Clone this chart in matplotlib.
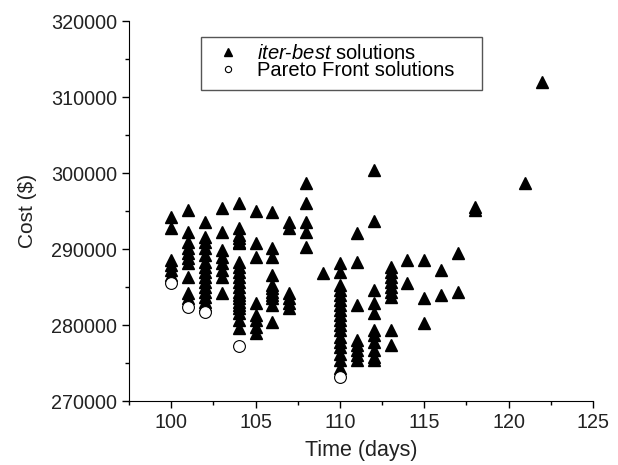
import matplotlib.pyplot as plt
from matplotlib.ticker import MultipleLocator
from matplotlib.patches import Rectangle

plt.rcParams['font.family'] = ['Liberation Sans', 'DejaVu Sans']
plt.rcParams['mathtext.fontset'] = 'custom'
plt.rcParams['mathtext.it'] = 'Liberation Sans:italic'
plt.rcParams['mathtext.rm'] = 'Liberation Sans'

# iter-best solutions, costs read per day
c100 = [294250, 292700, 288550, 287900, 287240, 286600]
c101 = [295130, 292280, 290960, 290090, 289430, 288780, 288120, 286360, 284170, 283510]
c102 = [293590, 291620, 290960, 290090, 289210, 288330, 287670, 287010, 286360,
        285700, 285040, 284380, 283720, 283070, 282630]
c103 = [295350, 292280, 289870, 288990, 288120, 287240, 286360, 284170]
c104 = [296010, 292720, 291840, 291410, 290960, 290750, 288330, 287670, 287010,
        286360, 285700, 285040, 284380, 283950, 283510, 283070, 282630, 282200,
        281540, 280660, 279570]
c105 = [295040, 290750, 288910, 282850, 281320, 280660, 279780, 278910]
c106 = [294910, 290090, 288910, 286580, 285260, 284830, 284380, 283950, 283510,
        282630, 280430]
c107 = [293590, 292720, 284170, 283510, 282850, 282200]
c108 = [298640, 296090, 293590, 292280, 290220]
c109 = [286800]
c110 = [288120, 287010, 285260, 284610, 283950, 283290, 282630, 281970, 281320,
        280660, 280000, 279340, 278460, 277800, 277140, 276200, 275390, 274300]
c111 = [292070, 288330, 282630, 278030, 277370, 276710, 276050, 275390]
c112 = [300390, 293680, 284610, 282850, 281540, 279340, 278680, 277800, 276710,
        275830, 275390]
c113 = [287670, 287010, 286360, 285700, 285040, 284380, 283720, 279340, 277370]
c114 = [288550, 285490]
c115 = [288550, 283510, 280220]
c116 = [287240, 283950]
c117 = [289430, 284380]
c118 = [295500, 295100]
c121 = [298720]
c122 = [311930]

groups = [(100, c100), (101, c101), (102, c102), (103, c103), (104, c104),
          (105, c105), (106, c106), (107, c107), (108, c108), (109, c109),
          (110, c110), (111, c111), (112, c112), (113, c113), (114, c114),
          (115, c115), (116, c116), (117, c117), (118, c118), (121, c121),
          (122, c122)]
iter_days = []
iter_costs = []
for d, cs in groups:
    iter_days += [d] * len(cs)
    iter_costs += cs

# Pareto front
pareto_days = [100, 101, 102, 104, 110]
pareto_costs = [285500, 282400, 281750, 277300, 273200]

fig = plt.figure(figsize=(6.18, 4.65), dpi=100)
ax = fig.add_axes([0.2087, 0.1376, 0.7508, 0.8172])

ax.plot(iter_days, iter_costs, '^', color='black', markersize=9, linestyle='none',
        label=r'$\mathit{iter}$-$\mathit{best}$ solutions')
ax.plot(pareto_days, pareto_costs, 'o', markerfacecolor='white', markeredgecolor='black',
        markeredgewidth=0.8, markersize=8.5, linestyle='none', label='Pareto Front solutions')

ax.set_xlim(97.5, 125)
ax.set_ylim(270000, 320000)
ax.xaxis.set_major_locator(MultipleLocator(5))
ax.xaxis.set_minor_locator(MultipleLocator(2.5))
ax.yaxis.set_major_locator(MultipleLocator(10000))
ax.yaxis.set_minor_locator(MultipleLocator(5000))
ax.spines['top'].set_visible(False)
ax.spines['right'].set_visible(False)
ax.tick_params(which='major', direction='out', length=5, width=1, labelsize=14.2,
               labelcolor='#222222')
ax.tick_params(which='minor', direction='out', length=3, width=1)

ax.set_xlabel('Time (days)', fontsize=15.5, color='#222222', labelpad=6)
ax.set_ylabel('Cost ($)', fontsize=15, color='#222222', labelpad=10)

leg = ax.legend(loc='upper left', bbox_to_anchor=(0.1918, 0.94), fontsize=14.5,
                frameon=False, borderpad=0, borderaxespad=0, handlelength=1,
                handletextpad=0.95, labelspacing=-0.08)
leg.legend_handles[0].set_markersize(5.5)
leg.legend_handles[1].set_markersize(4.5)
ax.add_patch(Rectangle((0.1545, 0.818), 0.6055, 0.139, transform=ax.transAxes,
                       fill=False, edgecolor='#555555', linewidth=1, clip_on=False))

fig.savefig('out.png', dpi=100)
